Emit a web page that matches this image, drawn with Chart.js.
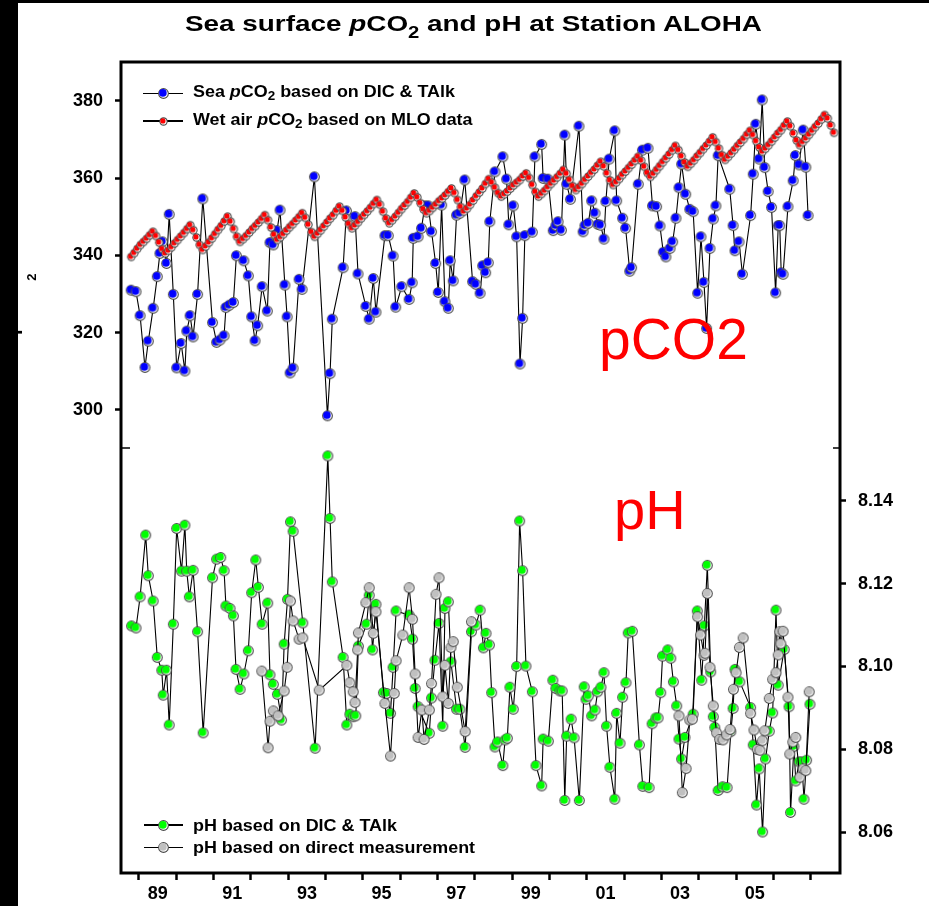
<!DOCTYPE html>
<html>
<head>
<meta charset="utf-8">
<title>Sea surface pCO2 and pH at Station ALOHA</title>
<script src="https://cdn.jsdelivr.net/npm/chart.js@4.4.1/dist/chart.umd.min.js"></script>
<style>
  html, body { margin:0; padding:0; background:#fff; }
  #wrap { position:relative; width:929px; height:906px; overflow:hidden; font-family:"Liberation Sans", Arial, sans-serif; }
  #chart { position:absolute; left:0; top:0; }
  .txt { position:absolute; white-space:nowrap; transform-origin:0 0; color:#000; }
  #title { left:185px; top:12.5px; font-size:22px; line-height:22px; font-weight:bold; }
  #title .sub { font-size:16px; position:relative; top:7.6px; }
  .lg { left:193px; font-size:16px; line-height:16px; font-weight:bold; }
  .lg .sub { font-size:12px; position:relative; top:3.4px; }
  #lg1a { top:84px; } #lg1b { top:111.5px; } #lg2a { top:818px; } #lg2b { top:840px; }
  .lgline { position:absolute; height:1.5px; background:#000; }
  .lgsym { position:absolute; }
  .ann { color:#f00; font-weight:normal; }
  #annCO2 { left:599px; top:311px; font-size:57px; line-height:57px; }
  #annPH { left:614px; top:482px; font-size:56px; line-height:56px; }
  #ytitle { left:1px; top:335px; font-size:20px; line-height:20px; font-weight:bold; transform:rotate(-90deg); }
  #ytitle .sub { font-size:13px; position:relative; top:18px; margin-left:12px; }
  .strip { position:absolute; background:#000; }
</style>
</head>
<body>
<div id="wrap">
  <canvas id="chart" width="929" height="906"></canvas>
  <div id="title" class="txt">Sea surface <i>p</i>CO<span class="sub">2</span> and pH at Station ALOHA</div>
  <div id="lg1a" class="txt lg">Sea <i>p</i>CO<span class="sub">2</span> based on DIC &amp; TAlk</div>
  <div id="lg1b" class="txt lg">Wet air <i>p</i>CO<span class="sub">2</span> based on MLO data</div>
  <div id="lg2a" class="txt lg">pH based on DIC &amp; TAlk</div>
  <div id="lg2b" class="txt lg">pH based on direct measurement</div>
  <div id="annCO2" class="txt ann">pCO2</div>
  <div id="annPH" class="txt ann">pH</div>
  <div id="ytitle" class="txt">pCO<span class="sub">2</span></div>
  <div class="strip" style="left:0;top:0;width:18px;height:906px"></div>
  <div class="strip" style="left:0;top:0;width:929px;height:3px"></div>
</div>
<script>
// sea pCO2 from DIC & TAlk (cruise dates, decimal years)
const seaYears = [
  1988.79,1988.92,1989.03,1989.16,1989.25,1989.38,1989.49,1989.56,1989.63,1989.74,
  1989.81,1989.92,1990.01,1990.13,1990.23,1990.28,1990.37,1990.45,1990.57,1990.71,
  1990.97,1991.08,1991.17,1991.28,1991.33,1991.42,1991.53,1991.61,1991.81,1991.93,
  1992.02,1992.11,1992.18,1992.30,1992.44,1992.51,1992.60,1992.70,1992.78,1992.91,
  1992.97,1993.05,1993.13,1993.29,1993.37,1993.70,1994.05,1994.12,1994.18,1994.47,
  1994.56,1994.79,1994.87,1995.08,1995.17,1995.28,1995.35,1995.59,1995.68,1995.81,
  1995.88,1996.04,1996.24,1996.32,1996.35,1996.48,1996.57,1996.66,1996.75,1996.84,
  1996.95,1997.02,1997.11,1997.20,1997.29,1997.34,1997.42,1997.51,1997.60,1997.73,
  1997.94,1998.03,1998.14,1998.21,1998.29,1998.36,1998.40,1998.54,1998.75,1998.85,
  1998.91,1999.03,1999.12,1999.21,1999.28,1999.34,1999.54,1999.61,1999.79,1999.83,
  1999.96,2000.10,2000.17,2000.23,2000.32,2000.41,2000.46,2000.56,2000.79,2000.90,
  2000.95,2001.04,2001.13,2001.22,2001.30,2001.37,2001.46,2001.51,2001.60,2001.75,
  2001.80,2001.96,2002.04,2002.15,2002.20,2002.38,2002.49,2002.64,2002.76,2002.87,
  2002.96,2003.05,2003.12,2003.23,2003.30,2003.39,2003.47,2003.54,2003.65,2003.76,
  2003.85,2003.97,2004.06,2004.14,2004.21,2004.30,2004.39,2004.46,2004.52,2004.83,
  2004.92,2004.97,2005.08,2005.17,2005.39,2005.46,2005.53,2005.62,2005.70,2005.77,
  2005.86,2005.95,2006.06,2006.13,2006.17,2006.21,2006.26,2006.39,2006.53,2006.59,
  2006.69,2006.80,2006.87,2006.93
];
const seaPco2 = [
  331.0,330.6,324.4,311.0,317.8,326.3,334.5,340.5,343.5,337.9,
  350.6,329.9,310.9,317.2,310.1,320.4,324.4,318.9,329.9,354.6,
  322.6,317.5,318.1,319.2,326.5,327.1,327.8,339.9,338.6,334.7,
  324.1,317.9,321.8,331.9,325.6,343.3,342.7,346.4,351.7,332.3,
  324.1,309.6,310.8,333.8,331.2,360.3,298.5,309.4,323.5,336.8,
  351.5,350.0,335.2,326.8,323.5,334.0,325.3,345.1,345.1,339.8,
  326.6,331.9,328.6,332.9,344.4,344.8,347.0,352.8,352.8,346.1,
  337.9,330.4,353.0,328.0,326.3,338.6,333.4,350.4,350.9,359.5,
  333.2,332.5,330.2,337.3,335.5,338.1,348.7,361.6,365.5,359.7,
  347.9,352.8,344.8,311.9,323.7,345.1,346.0,365.5,368.7,359.9,
  359.7,346.4,347.7,348.7,346.5,371.1,358.4,354.5,373.4,346.1,
  347.7,348.3,354.1,350.9,348.0,347.8,344.2,353.9,364.9,372.2,
  354.1,349.6,347.0,335.9,336.8,358.4,367.2,367.7,352.8,352.6,
  347.6,340.8,339.6,341.8,343.5,349.6,357.5,363.6,355.8,351.9,
  351.3,330.2,344.8,333.0,321.1,341.8,349.4,352.8,365.8,357.1,
  347.7,341.2,343.5,335.1,350.3,361.0,373.9,364.9,380.2,362.7,
  356.5,352.4,330.3,347.7,347.7,335.5,335.1,352.6,359.3,365.8,
  363.4,372.4,362.8,350.3
];

// wet air pCO2 from MLO, monthly from Oct 1988
const airFirstMonth = 1988 + 9.5 / 12;
const airPco2 = [
  339.6,340.6,341.7,
  342.7,343.5,344.3,345.2,346.1,345.0,343.3,341.6,340.5,341.2,342.1,343.1,
  344.0,344.9,345.8,346.8,347.8,346.5,344.6,342.7,341.4,342.3,343.3,344.4,
  345.5,346.6,347.6,348.8,350.0,348.7,346.8,344.8,343.5,344.2,345.0,345.9,
  346.8,347.6,348.5,349.4,350.4,349.1,347.2,345.3,344.0,344.7,345.5,346.4,
  347.3,348.1,349.0,349.9,350.9,349.7,347.9,346.0,344.8,345.6,346.5,347.5,
  348.5,349.5,350.4,351.5,352.6,351.5,349.8,348.1,347.0,347.7,348.6,349.6,
  350.5,351.4,352.3,353.3,354.3,353.1,351.3,349.5,348.3,349.1,350.0,351.0,
  352.0,352.9,353.8,354.9,356.0,355.0,353.5,351.9,350.9,351.5,352.3,353.1,
  354.0,354.7,355.5,356.4,357.3,356.1,354.3,352.5,351.3,352.1,353.1,354.2,
  355.3,356.3,357.3,358.5,359.7,358.8,357.5,356.1,355.2,355.8,356.5,357.3,
  358.1,358.8,359.5,360.4,361.2,360.0,358.2,356.4,355.2,355.9,356.7,357.6,
  358.5,359.3,360.2,361.1,362.1,361.1,359.5,357.9,356.9,357.6,358.5,359.5,
  360.4,361.3,362.2,363.2,364.2,363.0,361.2,359.4,358.2,358.9,359.8,360.8,
  361.7,362.6,363.5,364.5,365.5,364.5,362.9,361.3,360.3,361.1,362.1,363.1,
  364.1,365.1,366.1,367.2,368.3,367.2,365.6,364.0,362.9,363.7,364.6,365.6,
  366.5,367.5,368.4,369.4,370.5,369.3,367.6,365.9,364.7,365.5,366.4,367.3,
  368.3,369.2,370.1,371.2,372.2,371.1,369.5,367.9,366.8,367.6,368.5,369.5,
  370.5,371.5,372.4,373.5,374.6,373.4,371.5,369.7,368.5,369.3,370.2,371.2,
  372.2,373.2,374.1,375.2,376.3,375.4,373.6,371.7
];

// pH from DIC & TAlk
const phDicYears = [
  1988.80,1988.92,1989.03,1989.18,1989.25,1989.38,1989.49,1989.61,1989.65,1989.74,
  1989.81,1989.92,1990.01,1990.14,1990.23,1990.28,1990.35,1990.45,1990.57,1990.72,
  1990.97,1991.08,1991.19,1991.28,1991.33,1991.44,1991.53,1991.60,1991.71,1991.81,
  1991.93,1992.02,1992.13,1992.20,1992.30,1992.45,1992.51,1992.60,1992.71,1992.82,
  1992.89,1992.98,1993.06,1993.13,1993.39,1993.72,1994.06,1994.12,1994.18,1994.47,
  1994.57,1994.65,1994.74,1994.81,1994.88,1995.10,1995.17,1995.26,1995.35,1995.55,
  1995.64,1995.74,1995.81,1995.89,1996.24,1996.33,1996.40,1996.48,1996.78,1996.84,
  1996.93,1997.04,1997.14,1997.20,1997.29,1997.36,1997.51,1997.60,1997.74,1997.91,
  1998.03,1998.14,1998.23,1998.30,1998.39,1998.45,1998.54,1998.61,1998.75,1998.81,
  1998.87,1998.94,1999.03,1999.12,1999.20,1999.28,1999.37,1999.54,1999.64,1999.79,
  1999.83,1999.97,2000.09,2000.17,2000.28,2000.34,2000.41,2000.46,2000.58,2000.66,
  2000.80,2000.93,2000.98,2001.04,2001.13,2001.22,2001.29,2001.38,2001.46,2001.53,
  2001.62,2001.75,2001.80,2001.89,2001.96,2002.05,2002.11,2002.22,2002.41,2002.50,
  2002.67,2002.75,2002.85,2002.91,2002.98,2003.03,2003.17,2003.25,2003.32,2003.41,
  2003.47,2003.54,2003.63,2003.85,2003.96,2004.08,2004.15,2004.23,2004.32,2004.39,
  2004.43,2004.52,2004.64,2004.76,2004.86,2004.92,2004.97,2005.10,2005.39,2005.46,
  2005.55,2005.62,2005.71,2005.79,2005.89,2005.98,2006.07,2006.13,2006.29,2006.42,
  2006.46,2006.55,2006.60,2006.69,2006.76,2006.82,2006.89,2006.98
];
const phDic = [
  8.1098,8.1093,8.1168,8.1317,8.1219,8.1158,8.1022,8.0991,8.0931,8.0991,
  8.0859,8.1102,8.1333,8.1230,8.1341,8.1230,8.1168,8.1232,8.1084,8.0840,
  8.1214,8.1259,8.1263,8.1231,8.1146,8.1140,8.1122,8.0993,8.0945,8.0982,
  8.1038,8.1178,8.1257,8.1191,8.1102,8.1153,8.0980,8.0957,8.0933,8.0871,
  8.1054,8.1162,8.1349,8.1326,8.1105,8.0803,8.1508,8.1357,8.1204,8.1022,
  8.0859,8.0885,8.0879,8.0881,8.1049,8.1102,8.1172,8.1040,8.1150,8.0937,
  8.0935,8.0887,8.0998,8.1134,8.1124,8.1066,8.0947,8.0903,8.0839,8.0924,
  8.1015,8.1104,8.0856,8.1140,8.1156,8.1011,8.0897,8.0897,8.0805,8.1084,
  8.1100,8.1136,8.1045,8.1080,8.1052,8.0937,8.0806,8.0818,8.0761,8.0823,
  8.0827,8.0950,8.0897,8.1000,8.1351,8.1231,8.1001,8.0939,8.0761,8.0712,
  8.0825,8.0820,8.0967,8.0947,8.0941,8.0941,8.0677,8.0832,8.0873,8.0828,
  8.0677,8.0951,8.0921,8.0929,8.0881,8.0895,8.0939,8.0950,8.0985,8.0856,
  8.0757,8.0680,8.0887,8.0815,8.0926,8.0961,8.1081,8.1085,8.0811,8.0711,
  8.0708,8.0862,8.0876,8.0876,8.0937,8.1025,8.1040,8.1020,8.0963,8.0905,
  8.0825,8.0777,8.0829,8.0885,8.1134,8.0967,8.1098,8.1244,8.0987,8.0879,
  8.0853,8.0701,8.0710,8.0708,8.0843,8.0899,8.0993,8.0963,8.0901,8.0811,
  8.0666,8.0753,8.0601,8.0777,8.0844,8.0888,8.1136,8.0955,8.1041,8.0903,
  8.0648,8.0807,8.0724,8.0770,8.0770,8.0680,8.0774,8.0909
];

// pH by direct measurement (null = no data 1998-2003)
const phMeasYears = [
  1992.29,1992.46,1992.51,1992.60,1992.73,1992.89,1992.97,1993.06,1993.13,1993.29,
  1993.39,1993.83,1994.57,1994.65,1994.74,1994.79,1994.86,1994.88,1995.08,1995.17,
  1995.28,1995.35,1995.59,1995.74,1995.84,1995.89,1996.07,1996.24,1996.33,1996.40,
  1996.48,1996.58,1996.64,1996.78,1996.84,1996.96,1997.04,1997.14,1997.20,1997.29,
  1997.36,1997.42,1997.53,1997.74,1997.91,2000.50,2003.47,2003.56,2003.66,2003.76,
  2003.83,2003.97,2004.05,2004.14,2004.17,2004.23,2004.30,2004.39,2004.48,2004.56,
  2004.65,2004.75,2004.84,2004.93,2005.00,2005.09,2005.19,2005.39,2005.48,2005.57,
  2005.64,2005.71,2005.77,2005.89,2005.98,2006.07,2006.13,2006.17,2006.20,2006.26,
  2006.39,2006.44,2006.52,2006.60,2006.71,2006.80,2006.87,2006.96
];
const phMeas = [
  8.0989,8.0804,8.0868,8.0893,8.0881,8.0941,8.0998,8.1158,8.1110,8.1066,
  8.1069,8.0943,8.1003,8.0961,8.0939,8.0913,8.1040,8.1081,8.1154,8.1190,
  8.1080,8.1132,8.0911,8.0784,8.0935,8.1014,8.1076,8.1190,8.1114,8.0982,
  8.0829,8.0895,8.0824,8.0895,8.0959,8.1174,8.1214,8.0927,8.1003,8.0911,
  8.1046,8.1060,8.0950,8.0843,8.1108,null,8.0881,8.0696,8.0754,8.0871,
  8.0873,8.1120,8.1076,8.1027,8.1032,8.1176,8.0998,8.0905,8.0840,8.0824,
  8.0823,8.0835,8.0848,8.0945,8.0985,8.1046,8.1069,8.0887,8.0847,8.0800,
  8.0798,8.0821,8.0845,8.0923,8.0969,8.0985,8.1028,8.1084,8.1055,8.1085,
  8.0926,8.0789,8.0818,8.0829,8.0733,8.0753,8.0749,8.0939
];

// axes
const xTickYears = [1989,1990,1991,1992,1993,1994,1995,1996,1997,1998,1999,2000,2001,2002,2003,2004,2005,2006,2007];
const xLabelYears = [1989,1991,1993,1995,1997,1999,2001,2003,2005];
const xLabels = ['89','91','93','95','97','99','01','03','05'];
const pco2Ticks = [300,320,340,360,380];
const phTicks = [8.06,8.08,8.10,8.12,8.14];
const phTickLabels = ['8.06','8.08','8.10','8.12','8.14'];

const FONT = 'Liberation Sans, Arial, sans-serif';
const tickFont = { family: FONT, size: 18, weight: 'bold' };
const breakY = 448;

function makeSymbol(fill, R){
  const size = Math.ceil(R*2 + 2);
  const c = document.createElement('canvas');
  c.width = size; c.height = size;
  const g = c.getContext('2d');
  const m = size/2;
  g.fillStyle = '#4a4a4a';
  g.beginPath(); g.arc(m, m, R, 0, Math.PI*2); g.fill();
  g.fillStyle = '#fff';
  g.beginPath(); g.arc(m, m, R-1.1, 0, Math.PI*2); g.fill();
  g.fillStyle = fill;
  g.beginPath(); g.arc(m-0.6, m-0.6, R-1.6, 0, Math.PI*2); g.fill();
  return c;
}

const symBlue = makeSymbol('#0000ff', 5.4);
const symRed = makeSymbol('#ff0000', 4.2);
const symGreen = makeSymbol('#00ff00', 5.4);
const symGray = makeSymbol('#c0c0c0', 5.4);

function pairs(xs, ys){ return xs.map((x,i)=>({ x:x, y:ys[i] })); }

function series(data, axis, sym, order){
  return {
    data: data, yAxisID: axis, order: order,
    borderColor:'#000', borderWidth:1.1, tension:0, spanGaps:false,
    pointStyle: sym, pointRadius: 5, pointHoverRadius: 5
  };
}

const framePlugin = {
  id: 'frame',
  afterDraw(chart){
    const { ctx, chartArea: a } = chart;
    ctx.save();
    ctx.strokeStyle = '#000';
    ctx.lineWidth = 3;
    ctx.strokeRect(a.left, a.top, a.right - a.left, a.bottom - a.top);
    ctx.lineWidth = 1.5;
    ctx.beginPath();
    ctx.moveTo(a.left, breakY); ctx.lineTo(a.left + 9, breakY);
    ctx.moveTo(a.right, breakY); ctx.lineTo(a.right - 7, breakY);
    ctx.stroke();
    ctx.restore();
  }
};

const xTicks = xTickYears.map(v=>({ value:v }))
  .concat(xLabelYears.map(v=>({ value:v + 0.5 })))
  .sort((a,b)=>a.value - b.value);

new Chart(document.getElementById('chart'), {
  type: 'line',
  data: {
    datasets: [
      series(airPco2.map((v,i)=>({ x: airFirstMonth + i/12, y: v })), 'y', symRed, 0),
      series(pairs(seaYears, seaPco2), 'y', symBlue, 1),
      series(pairs(phMeasYears, phMeas), 'y2', symGray, 2),
      series(pairs(phDicYears, phDic), 'y2', symGreen, 3)
    ]
  },
  options: {
    responsive: false,
    animation: false,
    devicePixelRatio: 1,
    events: [],
    layout: { padding: { top: 62, left: 0, right: 0, bottom: 0 } },
    plugins: { legend: { display:false }, tooltip: { enabled:false }, title: { display:false } },
    scales: {
      x: {
        type: 'linear', position: 'bottom', min: 1988.518, max: 2007.785,
        afterBuildTicks: s => { s.ticks = xTicks.map(t=>({ value:t.value })); },
        afterFit: s => { s.height = 33; },
        border: { display:false },
        grid: { drawOnChartArea:false, tickLength:7, tickWidth:2.5,
                tickColor: c => Number.isInteger(c.tick.value) ? '#000' : 'rgba(0,0,0,0)' },
        ticks: { autoSkip:false, maxRotation:0, minRotation:0, padding:3, color:'#000', font: tickFont,
                 callback: v => { const i = xLabelYears.indexOf(v - 0.5); return i < 0 ? '' : xLabels[i]; } }
      },
      y: {
        type: 'linear', position: 'left', min: 180.24, max: 390.01,
        afterBuildTicks: s => { s.ticks = pco2Ticks.map(v=>({ value:v })); },
        afterFit: s => { s.width = 121; },
        border: { display:false },
        grid: { drawOnChartArea:false, tickLength:6, tickWidth:2.5, tickColor:'#000' },
        ticks: { padding:12, color:'#000', font: tickFont,
                 callback: v => pco2Ticks.indexOf(v) < 0 ? '' : String(v) }
      },
      y2: {
        type: 'linear', position: 'right', min: 8.0502, max: 8.2458,
        afterBuildTicks: s => { s.ticks = phTicks.map(v=>({ value:v })); },
        afterFit: s => { s.width = 89; },
        border: { display:false },
        grid: { drawOnChartArea:false, tickLength:6, tickWidth:2.5, tickColor:'#000' },
        ticks: { padding:12, color:'#000', font: tickFont,
                 callback: v => { const i = phTicks.indexOf(v); return i < 0 ? '' : phTickLabels[i]; } }
      }
    }
  },
  plugins: [framePlugin]
});

// legend keys: line with the same symbol on it
const wrap = document.getElementById('wrap');
function legendKey(x1, x2, y, sym){
  const line = document.createElement('div');
  line.className = 'lgline';
  line.style.left = x1 + 'px'; line.style.width = (x2 - x1) + 'px'; line.style.top = (y - 0.75) + 'px';
  wrap.appendChild(line);
  const c = document.createElement('canvas');
  c.className = 'lgsym';
  c.width = sym.width; c.height = sym.height;
  c.getContext('2d').drawImage(sym, 0, 0);
  c.style.left = ((x1 + x2)/2 - sym.width/2) + 'px';
  c.style.top = (y - sym.height/2) + 'px';
  wrap.appendChild(c);
}
legendKey(143, 183, 93.3, symBlue);
legendKey(143, 183, 121, symRed);
legendKey(144, 183, 825, symGreen);
legendKey(144, 183, 847.3, symGray);

// the original graphic is stretched sideways, so texts are fitted to their widths
function fitWidth(id, target){
  const el = document.getElementById(id);
  const w = el.getBoundingClientRect().width;
  el.style.transform = 'scaleX(' + (target / w) + ')';
}
fitWidth('title', 577);
fitWidth('lg1a', 262);
fitWidth('lg1b', 279.5);
fitWidth('lg2a', 204);
fitWidth('lg2b', 282);
</script>
</body>
</html>
